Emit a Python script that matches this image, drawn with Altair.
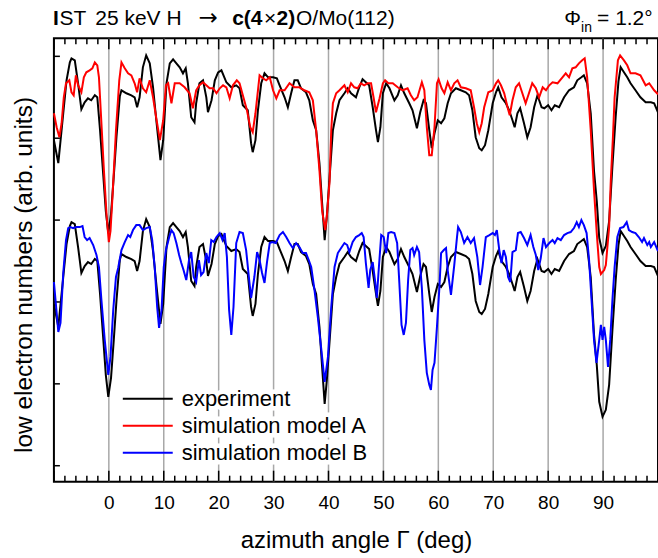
import altair as alt
import pandas as pd

F = "Liberation Sans, Arial, sans-serif"

# ---------------- data (arb. units) ----------------
exp_deg = [-10.0, -9.2, -8.3, -7.7, -7.1, -6.8, -6.2, -5.6, -5.0, -4.4,
           -3.8, -3.2, -2.55, -2.1, -1.6, -1.0, -0.55, -0.1, 0.4, 0.9,
           1.4, 2.0, 2.3, 3.2, 4.1, 4.7, 5.15, 5.6, 6.2, 6.8,
           7.45, 8.05, 8.7, 9.4, 9.9, 10.5, 11.1, 11.7, 12.3, 12.9,
           13.5, 14.0, 14.4, 15.0, 15.6, 15.9, 16.5, 17.15, 17.75, 18.05,
           18.7, 19.3, 19.9, 20.5, 21.4, 22.3, 23.2, 23.8, 24.4, 25.3,
           25.9, 26.2, 26.7, 27.15, 27.75, 28.35, 29.0, 29.9, 30.6, 31.1,
           32.0, 32.6, 33.2, 33.8, 34.4, 35.0, 35.9, 36.5, 37.15, 37.75,
           38.35, 38.85, 39.3, 39.7, 40.2, 40.8, 41.4, 42.0, 42.9, 43.5,
           44.1, 45.0, 45.6, 46.2, 46.8, 47.4, 48.05, 48.65, 49.0, 49.45,
           49.9, 50.5, 51.1, 52.0, 52.6, 53.2, 53.8, 54.7, 55.3, 56.1,
           56.7, 57.3, 57.75, 58.35, 58.8, 59.3, 59.9, 60.5, 61.1, 61.7,
           62.3, 63.2, 64.1, 65.0, 65.6, 66.2, 66.8, 67.45, 67.9, 68.5,
           69.1, 69.9, 70.5, 70.9, 71.5, 72.3, 72.9, 73.5, 73.9, 74.4,
           74.9, 75.6, 76.2, 76.8, 77.45, 78.05, 78.8, 79.3, 80.0, 80.6,
           81.2, 82.0, 82.9, 83.8, 84.7, 85.3, 86.05, 86.5, 87.1, 87.75,
           88.35, 88.85, 89.3, 89.9, 90.5, 91.1, 91.7, 92.3, 92.8, 93.2,
           93.8, 94.4, 95.0, 95.9, 96.8, 97.75, 98.7, 99.3, 100.0]
exp_val = [326, 303, 353, 386, 404, 408, 406, 383, 357, 364,
           368, 366, 371, 369, 336, 290, 255, 233, 252, 290,
           330, 370, 376, 373, 371, 369, 359, 369, 399, 411,
           403, 379, 343, 306, 326, 383, 403, 407, 403, 399,
           393, 398, 383, 349, 344, 363, 383, 386, 369, 354,
           366, 386, 394, 396, 384, 379, 381, 378, 361, 356,
           323, 314, 326, 356, 383, 393, 389, 389, 388, 381,
           369, 359, 373, 386, 386, 378, 374, 366, 346, 336,
           303, 262, 226, 250, 289, 336, 353, 366, 373, 378,
           373, 369, 379, 387, 384, 381, 359, 336, 324, 339,
           373, 383, 378, 366, 371, 381, 373, 363, 356, 338,
           354, 366, 363, 336, 318, 333, 346, 343, 348, 363,
           373, 378, 376, 374, 371, 356, 329, 318, 316, 321,
           336, 363, 374, 379, 369, 363, 356, 346, 339, 353,
           358, 343, 329, 339, 359, 371, 359, 358, 361, 356,
           361, 359, 369, 376, 379, 386, 389, 391, 383, 353,
           295, 265, 228, 213, 220, 245, 300, 350, 385, 399,
           394, 389, 383, 376, 369, 364, 364, 363, 354]
exp_offset = 164  # lower copy of the experiment curve

ma_deg = [-10.0, -9.5, -9.0, -8.6, -8.2, -7.8, -7.2, -6.8, -6.4, -6.0,
          -5.6, -5.0, -4.55, -4.1, -3.5, -3.0, -2.55, -2.1, -1.8, -1.35,
          -0.9, -0.4, 0.0, 0.3, 0.66, 1.3, 1.9, 2.3, 2.9, 3.5,
          4.1, 4.7, 5.15, 5.6, 6.2, 6.8, 7.45, 8.05, 8.7, 9.3,
          9.9, 10.4, 10.8, 11.4, 12.0, 12.9, 13.8, 14.7, 15.3, 15.9,
          16.5, 17.15, 17.75, 18.35, 19.0, 19.6, 20.2, 20.8, 21.4, 22.0,
          22.6, 23.3, 23.8, 24.5, 25.15, 25.75, 26.2, 26.7, 27.45, 28.05,
          28.65, 29.3, 29.9, 30.5, 31.1, 32.0, 32.9, 33.8, 34.7, 35.6,
          36.5, 37.15, 37.75, 38.35, 38.85, 39.4, 39.7, 40.2, 40.5, 40.8,
          41.4, 42.0, 42.9, 43.5, 44.1, 44.7, 45.3, 45.9, 46.5, 47.1,
          47.75, 48.2, 48.65, 49.3, 49.9, 50.3, 50.9, 51.7, 52.6, 53.5,
          54.4, 55.0, 55.6, 56.2, 57.0, 57.45, 57.9, 58.35, 58.8, 59.3,
          59.75, 60.05, 60.6, 61.1, 61.7, 62.3, 62.9, 63.5, 64.1, 65.0,
          65.9, 66.5, 67.0, 67.45, 67.9, 68.35, 69.1, 69.9, 70.5, 70.9,
          71.4, 72.0, 72.6, 73.0, 73.5, 74.1, 74.7, 75.3, 75.9, 76.5,
          77.1, 77.75, 78.35, 79.0, 79.6, 80.2, 80.8, 81.7, 82.6, 83.2,
          83.8, 84.4, 85.0, 85.6, 86.2, 86.65, 87.1, 87.75, 88.35, 88.85,
          89.3, 89.6, 90.2, 90.5, 91.1, 91.4, 91.8, 92.1, 92.7, 93.1,
          93.8, 94.4, 95.0, 95.9, 96.8, 97.75, 98.4, 99.3, 100.0]
ma_val = [353, 339, 329, 343, 369, 383, 386, 374, 371, 391,
          381, 374, 389, 394, 396, 398, 404, 401, 389, 343,
          296, 250, 224, 235, 269, 336, 386, 404, 398, 393,
          391, 383, 374, 388, 378, 374, 386, 369, 346, 326,
          346, 381, 383, 363, 383, 383, 379, 373, 358, 376,
          381, 384, 381, 378, 378, 373, 378, 381, 379, 368,
          381, 386, 383, 369, 356, 339, 334, 353, 391, 388,
          386, 389, 376, 368, 376, 376, 383, 379, 379, 376,
          374, 366, 336, 296, 255, 236, 250, 285, 336, 363,
          373, 376, 381, 374, 383, 379, 378, 383, 381, 383,
          383, 369, 354, 368, 383, 386, 383, 383, 379, 376,
          378, 371, 366, 369, 384, 376, 339, 311, 311, 339,
          383, 387, 378, 373, 384, 376, 383, 386, 379, 378,
          376, 359, 343, 334, 343, 359, 374, 376, 383, 386,
          381, 373, 359, 351, 366, 379, 383, 373, 363, 373,
          383, 378, 369, 379, 376, 381, 384, 383, 389, 393,
          389, 398, 399, 403, 406, 408, 389, 336, 276, 233,
          199, 192, 196, 201, 239, 285, 330, 369, 406, 411,
          406, 401, 393, 393, 391, 381, 383, 376, 372]

mb_deg = [-10.0, -9.5, -9.2, -8.8, -8.3, -7.8, -7.4, -7.0, -6.5, -5.9,
          -5.3, -4.8, -4.4, -3.95, -3.5, -2.85, -2.25, -1.8, -1.35, -0.75,
          -0.1, 0.3, 0.8, 1.3, 1.7, 2.3, 2.9, 3.5, 3.9, 4.4,
          5.0, 5.6, 6.2, 6.8, 7.45, 7.9, 8.35, 8.8, 9.15, 9.6,
          10.0, 10.4, 11.0, 11.4, 11.8, 12.3, 12.8, 13.2, 13.6, 14.1,
          14.6, 15.0, 15.45, 15.9, 16.4, 16.8, 17.25, 17.75, 18.2, 18.65,
          19.1, 19.6, 20.2, 20.7, 21.1, 21.5, 21.9, 22.3, 22.7, 23.2,
          23.8, 24.4, 25.0, 25.5, 25.9, 26.5, 27.0, 27.45, 27.9, 28.35,
          28.8, 29.3, 29.75, 30.4, 31.1, 31.7, 32.3, 32.9, 33.5, 34.1,
          34.7, 35.3, 35.9, 36.4, 36.85, 37.45, 38.05, 38.7, 39.3, 39.9,
          40.5, 41.1, 41.7, 42.3, 42.9, 43.4, 43.8, 44.4, 45.0, 45.6,
          46.05, 46.4, 46.8, 47.3, 47.6, 48.05, 48.5, 48.8, 49.1, 49.6,
          50.05, 50.5, 50.9, 51.4, 52.0, 52.5, 52.9, 53.3, 53.7, 54.1,
          54.5, 54.9, 55.3, 55.6, 56.1, 56.5, 57.0, 57.45, 57.9, 58.35,
          58.65, 58.95, 59.3, 59.75, 60.2, 60.5, 61.0, 61.4, 61.7, 62.3,
          62.9, 63.4, 63.6, 64.1, 64.7, 65.3, 65.9, 66.5, 67.1, 67.6,
          68.05, 68.65, 69.3, 69.9, 70.3, 70.65, 71.1, 71.5, 71.9, 72.3,
          72.7, 73.1, 73.5, 74.1, 74.5, 75.0, 75.6, 76.2, 76.8, 77.3,
          77.75, 78.2, 78.65, 79.15, 79.6, 80.2, 80.8, 81.2, 81.7, 82.3,
          82.9, 83.5, 84.1, 84.7, 85.2, 85.6, 86.05, 86.5, 87.0, 87.45,
          87.9, 88.35, 88.8, 89.3, 89.6, 89.9, 90.2, 90.5, 90.9, 91.3,
          91.7, 92.1, 92.6, 93.1, 93.7, 94.3, 94.7, 95.3, 95.9, 96.5,
          97.1, 97.45, 98.05, 98.4, 98.7, 99.3, 100.0]
mb_val = [184, 153, 134, 143, 193, 226, 238, 239, 238, 239,
          239, 240, 229, 226, 228, 221, 211, 199, 166, 126,
          91, 109, 156, 189, 198, 216, 224, 231, 229, 236,
          241, 241, 236, 238, 239, 226, 199, 159, 138, 156,
          199, 216, 229, 236, 233, 223, 211, 203, 196, 186,
          206, 214, 189, 184, 206, 191, 194, 213, 203, 226,
          224, 229, 233, 226, 233, 209, 156, 131, 159, 223,
          234, 233, 216, 189, 168, 189, 214, 206, 193, 183,
          204, 223, 224, 223, 231, 234, 229, 223, 218, 223,
          219, 213, 213, 206, 199, 176, 149, 116, 84, 109,
          159, 199, 213, 218, 223, 221, 214, 224, 229, 231,
          233, 229, 203, 178, 196, 204, 184, 168, 193, 231,
          229, 213, 233, 234, 233, 223, 183, 141, 131, 143,
          186, 216, 218, 211, 219, 214, 178, 126, 93, 81,
          76, 96, 103, 139, 179, 213, 216, 218, 196, 171,
          201, 229, 239, 234, 223, 229, 223, 228, 209, 181,
          199, 229, 231, 233, 231, 236, 216, 203, 216, 209,
          189, 184, 214, 216, 233, 234, 228, 221, 231, 219,
          211, 196, 208, 228, 219, 223, 226, 223, 228, 226,
          231, 233, 234, 238, 244, 239, 246, 241, 233, 206,
          166, 126, 103, 126, 141, 126, 139, 126, 99, 126,
          166, 199, 229, 238, 239, 244, 236, 234, 233, 229,
          224, 228, 221, 224, 219, 224, 215]

series_labels = ["experiment", "simulation model A", "simulation model B"]
series_colors = ["#000000", "#ff0000", "#0000ff"]

x_domain = [-10, 100]
y_domain = [-16, 428]
x_label_values = list(range(0, 91, 10))
grid_values = list(range(0, 91, 10))
major_tick_values = list(range(-10, 101, 10))
minor_tick_values = [v for v in range(-10, 101, 2) if v % 10 != 0]
y_tick_values = [0, 82, 164, 246, 328, 410]

x_title = "azimuth angle \u0393 (deg)"
y_title = "low electron numbers (arb. units)"

# ---------------- chart ----------------
W, H = 605, 444
xs = alt.Scale(domain=x_domain, nice=False, zero=False)
ys = alt.Scale(domain=y_domain, nice=False, zero=False)

df_up = pd.DataFrame({"deg": exp_deg, "val": exp_val})
df_lo = pd.DataFrame({"deg": exp_deg, "val": [v - exp_offset for v in exp_val]})
df_a = pd.DataFrame({"deg": ma_deg, "val": ma_val})
df_b = pd.DataFrame({"deg": mb_deg, "val": mb_val})

x_axis = alt.Axis(values=x_label_values, ticks=False, domain=False, grid=False,
                  labelFontSize=19, labelFont=F, labelColor="black", labelPadding=12,
                  title=x_title, titleFontSize=24, titleFont=F, titleFontWeight="normal",
                  titleColor="black", titleY=66, titleBaseline="alphabetic")
y_axis = alt.Axis(labels=False, ticks=False, domain=False, grid=False,
                  title=y_title, titleFontSize=24.5, titleFont=F, titleFontWeight="normal",
                  titleColor="black", titleX=-22, titleY=236.5, titleAngle=270,
                  titleAlign="center", titleBaseline="alphabetic")

grid = alt.Chart(pd.DataFrame({"deg": grid_values})).mark_rule(
    color="#a8a8a8", strokeWidth=1.5).encode(
    x=alt.X("deg:Q", scale=xs, axis=x_axis), y=alt.value(0), y2=alt.value(H))

def ticks(vals, y0, y1):
    return alt.Chart(pd.DataFrame({"deg": vals})).mark_rule(color="black", strokeWidth=1.5).encode(
        x=alt.X("deg:Q", scale=xs, axis=x_axis), y=alt.value(y0), y2=alt.value(y1))

tick_layers = [ticks(minor_tick_values, H, H - 6), ticks(major_tick_values, H, H - 11),
               ticks(minor_tick_values, 0, 6), ticks(major_tick_values, 0, 11)]

left_ticks = alt.Chart(pd.DataFrame({"val": y_tick_values})).mark_rule(
    color="black", strokeWidth=1.5).encode(
    y=alt.Y("val:Q", scale=ys, axis=y_axis), x=alt.value(0), x2=alt.value(6))

def curve(df, color):
    return alt.Chart(df).mark_line(color=color, strokeWidth=2).encode(
        x=alt.X("deg:Q", scale=xs, axis=x_axis),
        y=alt.Y("val:Q", scale=ys, axis=y_axis))

c_up = curve(df_up, series_colors[0])
c_lo = curve(df_lo, series_colors[0])
c_a = curve(df_a, series_colors[1])
c_b = curve(df_b, series_colors[2])

main = alt.layer(grid, *tick_layers, left_ticks, c_up, c_lo, c_a, c_b)

leg_df = pd.DataFrame({"label": series_labels})
leg_y = alt.Y("label:N", sort=series_labels,
              scale=alt.Scale(type="point", domain=series_labels, range=[361, 415], padding=0),
              axis=None)
leg_color = alt.Color("label:N", scale=alt.Scale(domain=series_labels, range=series_colors),
                      legend=None)
leg_lines = alt.Chart(leg_df).mark_rule(strokeWidth=2).encode(
    x=alt.value(69), x2=alt.value(119), y=leg_y, color=leg_color)
leg_halo = alt.Chart(leg_df).mark_text(align="left", baseline="middle", fontSize=22,
                                       font=F, color="white", stroke="white",
                                       strokeWidth=9).encode(
    x=alt.value(128), y=leg_y, text="label:N")
leg_text = alt.Chart(leg_df).mark_text(align="left", baseline="middle", fontSize=22,
                                       font=F, color="black").encode(
    x=alt.value(128), y=leg_y, text="label:N")

def txt(s, x, y, size=21, weight="normal", align="left", font=F):
    return alt.Chart(pd.DataFrame({"s": [s]})).mark_text(
        align=align, baseline="alphabetic", fontSize=size, font=font, fontWeight=weight,
        color="black").encode(x=alt.value(x - 54), y=alt.value(y - 38), text="s:N")

title_layers = [
    txt("I", 53, 25, weight="bold"),
    txt("ST", 59.5, 25),
    txt("25 keV H", 95.5, 25),
    txt("\u2192", 208.5, 25, size=23, align="center", font="DejaVu Sans"),
    txt("c(4", 232.5, 25, weight="bold"),
    txt("\u00d7", 270.5, 25, align="center"),
    txt("2)", 277, 25, weight="bold"),
    txt("O/Mo(112)", 296.5, 25),
    txt("\u03a6", 565, 25),
    txt("in", 582, 32, size=14),
    txt("= 1.2\u00b0", 598, 25),
]

chart = alt.layer(
    main, leg_halo, leg_lines, leg_text, *title_layers
).resolve_scale(y="independent").properties(
    width=W, height=H,
    padding={"left": 54, "top": 38, "right": 0, "bottom": 76},
    autosize=alt.AutoSizeParams(type="none"),
    background="white",
).configure_view(stroke="black", strokeWidth=2)

chart.save("out.html", embed_options={"renderer": "svg", "actions": False})
